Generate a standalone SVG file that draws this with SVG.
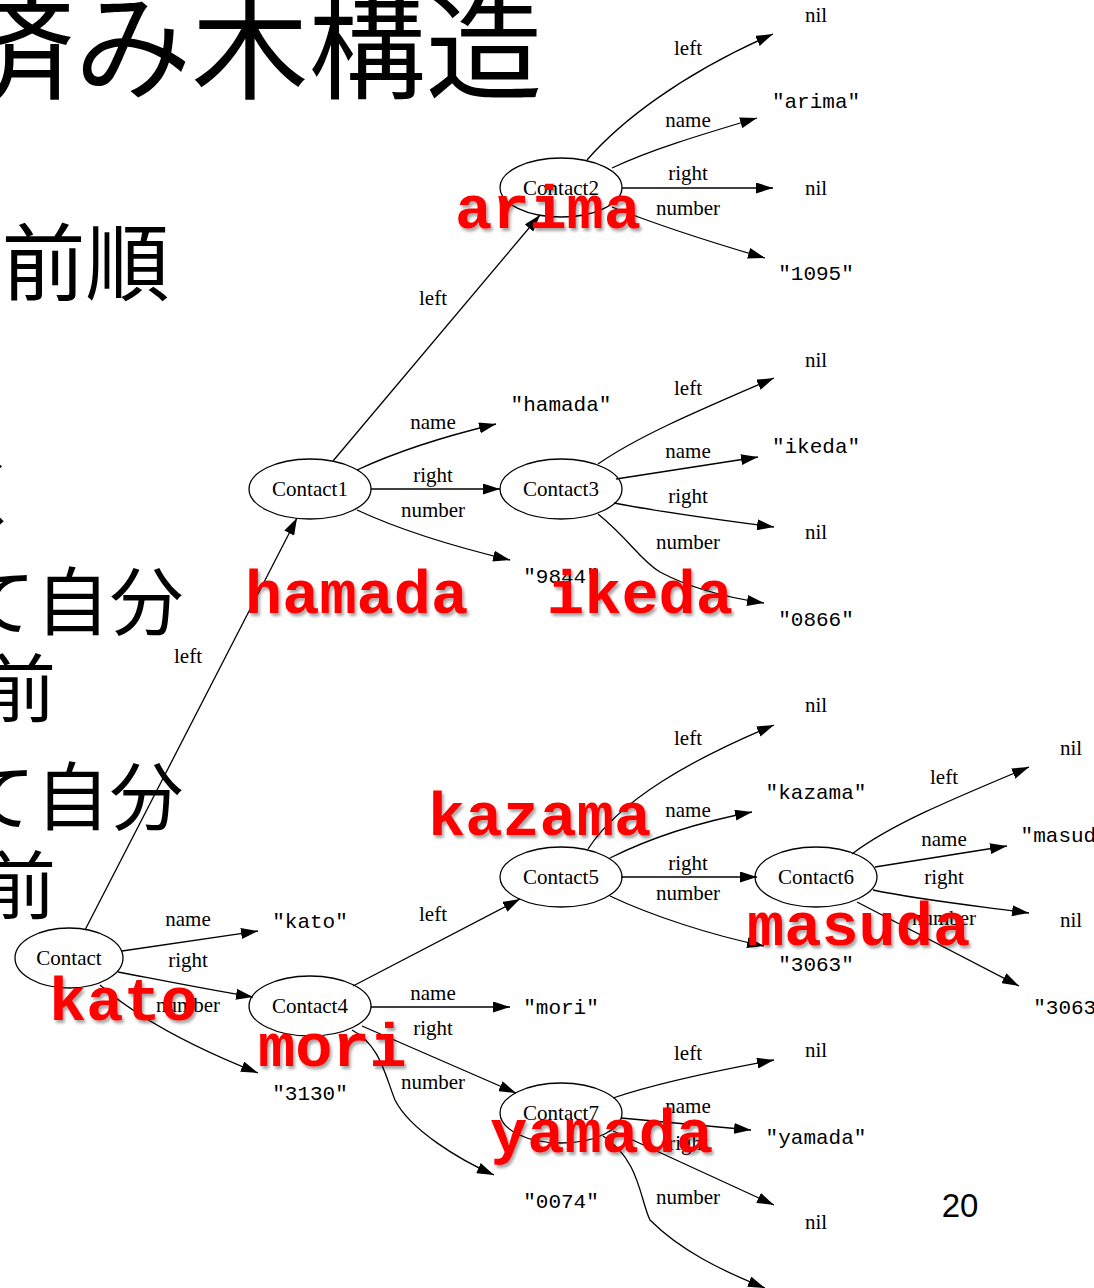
<svg xmlns="http://www.w3.org/2000/svg" width="1094" height="1288" viewBox="0 0 1094 1288">
<defs>
<marker id="ah" viewBox="0 0 17 11" refX="17" refY="5.5" markerWidth="17" markerHeight="11" markerUnits="userSpaceOnUse" orient="auto">
<path d="M0,0 L17,5.5 L0,11 z" fill="#000"/>
</marker>
<filter id="sh" x="-10%" y="-20%" width="130%" height="150%">
<feDropShadow dx="2" dy="3" stdDeviation="1.5" flood-color="#000" flood-opacity="0.35"/>
</filter>
</defs>
<style>
.jp{font-family:"Noto Sans CJK JP","Noto Sans",sans-serif;fill:#000}
.nd ellipse{fill:none;stroke:#000;stroke-width:1.3}
.nt{font-family:"Liberation Serif",serif;font-size:21px;text-anchor:middle;fill:#000}
.st{font-family:"Liberation Mono",monospace;font-size:21px;text-anchor:middle;fill:#000}
.lb{font-family:"Liberation Serif",serif;font-size:21px;text-anchor:middle;fill:#000}
.e path{fill:none;stroke:#000;stroke-width:1.3;marker-end:url(#ah)}
.red{font-family:"Liberation Mono",monospace;font-weight:bold;font-size:62px;fill:#f00;filter:url(#sh)}
</style>
<rect width="1094" height="1288" fill="#fff"/>

<g id="slide-text">
<text class="jp" x="-42.5" y="90" font-size="117">済み木構造</text>
<text class="jp" x="1.5" y="294" font-size="84">前順</text>
<text class="jp" x="-50" y="521" font-size="74">く</text>
<text class="jp" x="-38.5" y="629" font-size="74">て自分</text>
<text class="jp" x="-18" y="716" font-size="74">前</text>
<text class="jp" x="-38.5" y="824" font-size="74">て自分</text>
<text class="jp" x="-18" y="913" font-size="74">前</text>
<text x="960" y="1217" font-family="Liberation Sans,Noto Sans,sans-serif" font-size="33" text-anchor="middle">20</text>
</g>

<g id="edges" class="e">
<path d="M85,930 L297,518"/>
<path d="M122,951 L258,931"/>
<path d="M118,972 C160,980 210,990 253,997"/>
<path d="M100,985 C140,1020 200,1050 258,1073"/>
<path d="M333,461 L540,215"/>
<path d="M357,470 C400,450 450,435 496,424"/>
<path d="M371,489 L500,489"/>
<path d="M357,510 C400,530 460,548 510,560"/>
<path d="M587,160 C620,122 680,75 773,34"/>
<path d="M612,168 C650,150 700,135 757,118"/>
<path d="M622,188 L773,188"/>
<path d="M612,207 C650,222 710,242 765,258"/>
<path d="M598,464 C640,435 700,410 774,378"/>
<path d="M616,479 L758,457"/>
<path d="M614,503 C660,512 720,520 774,527"/>
<path d="M598,514 C630,540 640,560 660,572 C690,588 730,598 764,603"/>
<path d="M353,986 L520,899"/>
<path d="M371,1007 L510,1007"/>
<path d="M362,1026 L516,1093"/>
<path d="M352,1030 C380,1045 385,1075 395,1100 C410,1130 460,1160 494,1175"/>
<path d="M588,849 C620,800 690,760 774,725"/>
<path d="M610,858 C650,838 700,822 752,812"/>
<path d="M621,877 L757,877"/>
<path d="M610,896 C650,915 710,935 764,946"/>
<path d="M852,854 C890,825 950,800 1029,767"/>
<path d="M875,867 L1007,846"/>
<path d="M873,890 C920,900 970,905 1029,913"/>
<path d="M857,902 L1019,986"/>
<path d="M613,1098 C660,1082 720,1070 774,1060"/>
<path d="M621,1118 L751,1130"/>
<path d="M613,1131 L774,1205"/>
<path d="M603,1136 C640,1160 640,1200 650,1220 C680,1250 720,1270 765,1288"/>
</g>

<g id="edge-labels">
<text class="lb" x="188" y="663">left</text>
<text class="lb" x="188" y="926">name</text>
<text class="lb" x="188" y="967">right</text>
<text class="lb" x="188" y="1012">number</text>
<text class="lb" x="433" y="305">left</text>
<text class="lb" x="433" y="429">name</text>
<text class="lb" x="433" y="482">right</text>
<text class="lb" x="433" y="517">number</text>
<text class="lb" x="688" y="55">left</text>
<text class="lb" x="688" y="127">name</text>
<text class="lb" x="688" y="180">right</text>
<text class="lb" x="688" y="215">number</text>
<text class="lb" x="688" y="395">left</text>
<text class="lb" x="688" y="458">name</text>
<text class="lb" x="688" y="503">right</text>
<text class="lb" x="688" y="549">number</text>
<text class="lb" x="433" y="921">left</text>
<text class="lb" x="433" y="1000">name</text>
<text class="lb" x="433" y="1035">right</text>
<text class="lb" x="433" y="1089">number</text>
<text class="lb" x="688" y="745">left</text>
<text class="lb" x="688" y="817">name</text>
<text class="lb" x="688" y="870">right</text>
<text class="lb" x="688" y="900">number</text>
<text class="lb" x="944" y="784">left</text>
<text class="lb" x="944" y="846">name</text>
<text class="lb" x="944" y="884">right</text>
<text class="lb" x="944" y="925">number</text>
<text class="lb" x="688" y="1060">left</text>
<text class="lb" x="688" y="1113">name</text>
<text class="lb" x="688" y="1150">right</text>
<text class="lb" x="688" y="1204">number</text>
</g>

<g id="Contact" class="nd"><ellipse cx="69" cy="958" rx="54" ry="30"/><text class="nt" x="69" y="965">Contact</text></g>
<g id="Contact1" class="nd"><ellipse cx="310" cy="489" rx="61" ry="30"/><text class="nt" x="310" y="496">Contact1</text></g>
<g id="Contact2" class="nd"><ellipse cx="561" cy="187.5" rx="61" ry="29.5"/><text class="nt" x="561" y="195">Contact2</text></g>
<g id="Contact3" class="nd"><ellipse cx="561" cy="489" rx="61" ry="30"/><text class="nt" x="561" y="496">Contact3</text></g>
<g id="Contact4" class="nd"><ellipse cx="310" cy="1006" rx="61" ry="30"/><text class="nt" x="310" y="1013">Contact4</text></g>
<g id="Contact5" class="nd"><ellipse cx="561" cy="877" rx="61" ry="30"/><text class="nt" x="561" y="884">Contact5</text></g>
<g id="Contact6" class="nd"><ellipse cx="816" cy="877" rx="61" ry="30"/><text class="nt" x="816" y="884">Contact6</text></g>
<g id="Contact7" class="nd"><ellipse cx="561" cy="1113" rx="61" ry="30"/><text class="nt" x="561" y="1120">Contact7</text></g>

<g id="kato"><text class="st" x="310" y="928">"kato"</text></g>
<g id="n3130"><text class="st" x="310" y="1100">"3130"</text></g>
<g id="hamada"><text class="st" x="561" y="411">"hamada"</text></g>
<g id="n9844"><text class="st" x="561" y="583">"9844"</text></g>
<g id="nil1"><text class="nt" x="816" y="22">nil</text></g>
<g id="arima"><text class="st" x="816" y="108">"arima"</text></g>
<g id="nil2"><text class="nt" x="816" y="195">nil</text></g>
<g id="n1095"><text class="st" x="816" y="280">"1095"</text></g>
<g id="nil3"><text class="nt" x="816" y="367">nil</text></g>
<g id="ikeda"><text class="st" x="816" y="453">"ikeda"</text></g>
<g id="nil4"><text class="nt" x="816" y="539">nil</text></g>
<g id="n0866"><text class="st" x="816" y="626">"0866"</text></g>
<g id="nil5"><text class="nt" x="816" y="712">nil</text></g>
<g id="kazama"><text class="st" x="816" y="799">"kazama"</text></g>
<g id="n3063a"><text class="st" x="816" y="971">"3063"</text></g>
<g id="nil6"><text class="nt" x="1071" y="755">nil</text></g>
<g id="masuda"><text class="st" x="1071" y="842">"masuda"</text></g>
<g id="nil7"><text class="nt" x="1071" y="927">nil</text></g>
<g id="n3063b"><text class="st" x="1071" y="1014">"3063"</text></g>
<g id="mori"><text class="st" x="561" y="1014">"mori"</text></g>
<g id="n0074"><text class="st" x="561" y="1208">"0074"</text></g>
<g id="nil8"><text class="nt" x="816" y="1057">nil</text></g>
<g id="yamada"><text class="st" x="816" y="1144">"yamada"</text></g>
<g id="nil9"><text class="nt" x="816" y="1229">nil</text></g>

<g id="annotations">
<text class="red" x="455" y="228">arima</text>
<text class="red" x="245" y="613">hamada</text>
<text class="red" x="547" y="613">ikeda</text>
<text class="red" x="428" y="835">kazama</text>
<text class="red" x="747" y="945">masuda</text>
<text class="red" x="49" y="1020">kato</text>
<text class="red" x="258" y="1066">mori</text>
<text class="red" x="490" y="1152">yamada</text>
</g>
</svg>
